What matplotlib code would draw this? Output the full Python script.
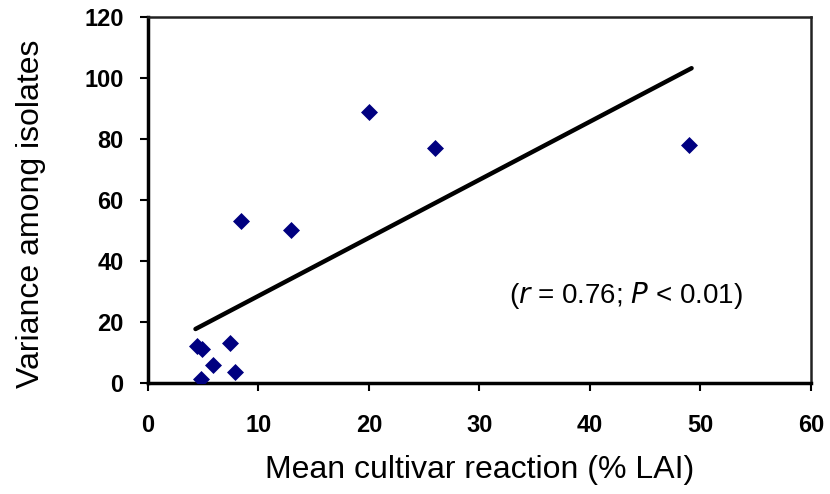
import matplotlib
matplotlib.use("Agg")
import matplotlib.pyplot as plt
import numpy as np

plt.rcParams['font.family'] = ['Liberation Sans', 'DejaVu Sans']

mean_reaction = [4.4, 4.9, 7.4, 5.9, 7.9, 4.8, 8.4, 12.9, 20.0, 26.0, 49.0]
variance = [12.0, 11.0, 13.0, 6.0, 3.6, 1.3, 53.0, 50.0, 89.0, 77.0, 78.0]
fit_x = [4.3, 49.2]
fit_y = [17.7, 103.2]
x_ticks = [0, 10, 20, 30, 40, 50, 60]
y_ticks = [0, 20, 40, 60, 80, 100, 120]

fig = plt.figure(figsize=(8.3, 4.94), dpi=100)
ax = fig.add_axes([0.1783, 0.2247, 0.7987, 0.741])

ax.plot(fit_x, fit_y, color='black', lw=3.2, solid_capstyle='round', zorder=2)
ax.scatter(mean_reaction, variance, marker='D', s=75, color='#000080', zorder=3, linewidths=0)

ax.set_xlim(0, 60)
ax.set_ylim(0, 120)
ax.set_xticks(x_ticks)
ax.set_yticks(y_ticks)
ax.set_xticklabels([str(v) for v in x_ticks], fontsize=17, fontweight='bold')
ax.set_yticklabels([str(v) for v in y_ticks], fontsize=17, fontweight='bold')
ax.tick_params(axis='x', direction='out', length=6, width=1.5, pad=16.5)
ax.tick_params(axis='y', direction='out', length=6, width=1.5, pad=11.5)

for s in ['left', 'bottom']:
    ax.spines[s].set_linewidth(2.5)
for s in ['top', 'right']:
    ax.spines[s].set_linewidth(1.8)
    ax.spines[s].set_color('#222222')

ax.set_xlabel('Mean cultivar reaction (% LAI)', fontsize=23, labelpad=13)
ax.set_ylabel('Variance among isolates', fontsize=23)
ax.yaxis.set_label_coords(-0.154, 0.462)

ax.text(0.7205, 0.24, r'($\it{r}$ = 0.76; $\it{P}$ < 0.01)', transform=ax.transAxes,
        fontsize=20, ha='center', va='center')

fig.savefig('out.png', dpi=100)
